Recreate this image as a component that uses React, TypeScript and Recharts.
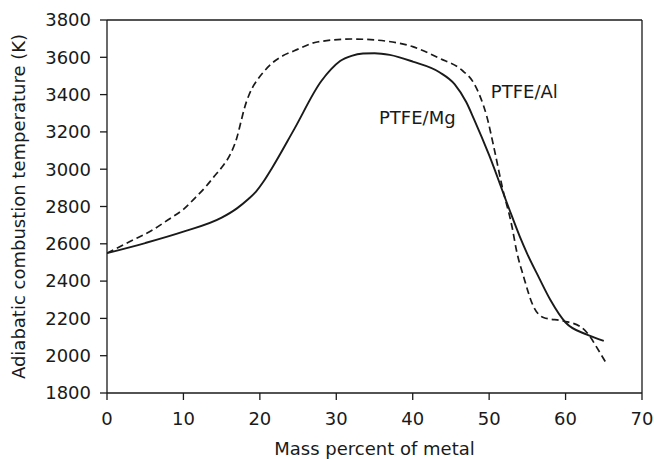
import {
  LineChart,
  Line,
  XAxis,
  YAxis,
  ReferenceLine,
  ReferenceDot,
} from "recharts";

// PTFE/Mg (solid)
const mgMass = [0, 5, 10, 15, 17, 18.5, 19.5, 20.5, 21.5, 24.5, 28, 29.3, 30.5, 32, 33.5, 35, 37, 40, 43.5, 45.5, 47, 48, 50, 52.5, 54, 55, 56.5, 58, 60, 62.8, 65];
const mgTemp = [2550, 2604, 2665, 2740, 2790, 2840, 2880, 2935, 3000, 3215, 3470, 3535, 3580, 3608, 3620, 3622, 3613, 3577, 3520, 3455, 3360, 3270, 3075, 2800, 2640, 2545, 2420, 2300, 2178, 2113, 2080];

// PTFE/Al (dashed)
const alMass = [0, 3, 6, 8, 10, 11.5, 13, 14, 15.2, 16.2, 17, 17.5, 18, 18.5, 19, 19.6, 20.5, 21.5, 23, 24.5, 27.5, 32, 35, 40, 43.5, 46.4, 48, 48.8, 49.7, 50.6, 51.7, 53, 53.6, 54.5, 55.8, 57.1, 59.7, 61.9, 63.2, 64, 65.3];
const alTemp = [2550, 2612, 2675, 2729, 2785, 2845, 2910, 2960, 3020, 3085, 3170, 3250, 3330, 3390, 3435, 3475, 3522, 3565, 3608, 3635, 3682, 3698, 3693, 3657, 3595, 3532, 3461, 3392, 3282, 3121, 2907, 2690, 2560, 2425, 2264, 2205, 2186, 2157, 2103, 2050, 1961];

const xTicks = [0, 10, 20, 30, 40, 50, 60, 70];
const yTicks = [1800, 2000, 2200, 2400, 2600, 2800, 3000, 3200, 3400, 3600, 3800];

const mgData = mgMass.map((m, i) => ({ mass: m, temp: mgTemp[i] }));
const alData = alMass.map((m, i) => ({ mass: m, temp: alTemp[i] }));

const FONT = "'DejaVu Sans', sans-serif";
const INK = "#1a1a1a";

export default function App() {
  const tick = { fill: INK, fontSize: 18, fontFamily: FONT };
  return (
    <div style={{ position: "absolute", left: 0, top: 0, background: "#fff" }}>
      <LineChart
        width={654}
        height={459}
        margin={{ top: 20, right: 12, bottom: 0, left: 0 }}
      >
        <XAxis
          type="number"
          dataKey="mass"
          domain={[0, 70]}
          ticks={xTicks}
          allowDataOverflow
          height={66}
          tickSize={7}
          tickMargin={12}
          stroke={INK}
          strokeWidth={1.3}
          tick={tick}
          label={{
            value: "Mass percent of metal",
            position: "insideBottom",
            offset: 4,
            fill: INK,
            fontSize: 18,
            fontFamily: FONT,
          }}
        />
        <YAxis
          type="number"
          dataKey="temp"
          domain={[1800, 3800]}
          ticks={yTicks}
          allowDataOverflow
          width={107}
          tickSize={7}
          tickMargin={9}
          stroke={INK}
          strokeWidth={1.3}
          tick={tick}
          label={{
            value: "Adiabatic combustion temperature (K)",
            angle: -90,
            position: "insideLeft",
            offset: 19,
            fill: INK,
            fontSize: 18,
            fontFamily: FONT,
            style: { textAnchor: "middle" },
          }}
        />
        <ReferenceLine y={3800} stroke={INK} strokeWidth={1.3} />
        <ReferenceLine x={70} stroke={INK} strokeWidth={1.3} />
        <Line
          data={alData}
          dataKey="temp"
          type="monotone"
          stroke={INK}
          strokeWidth={1.7}
          strokeDasharray="7 4"
          dot={false}
          isAnimationActive={false}
        />
        <Line
          data={mgData}
          dataKey="temp"
          type="monotone"
          stroke={INK}
          strokeWidth={1.9}
          dot={false}
          isAnimationActive={false}
        />
        <ReferenceDot
          x={54.6}
          y={3417}
          r={0}
          fill="none"
          stroke="none"
          label={{ value: "PTFE/Al", position: "center", fill: INK, fontSize: 18, fontFamily: FONT }}
        />
        <ReferenceDot
          x={40.6}
          y={3278}
          r={0}
          fill="none"
          stroke="none"
          label={{ value: "PTFE/Mg", position: "center", fill: INK, fontSize: 18, fontFamily: FONT }}
        />
      </LineChart>
    </div>
  );
}
